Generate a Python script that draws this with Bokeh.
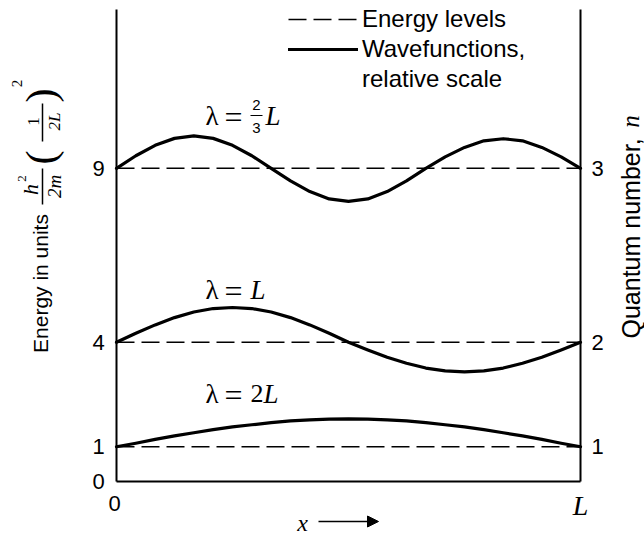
import math
from bokeh.plotting import figure
from bokeh.models import (Range1d, Label, Arrow, NormalHead, Legend, LegendItem,
                          ColumnDataSource)
from bokeh.core.properties import value
from bokeh.embed import file_html
from bokeh.resources import INLINE

# ---------------- data ----------------
energy_levels = [1, 4, 9]              # E in units h^2/2m (1/2L)^2
quantum_numbers = ["1", "2", "3"]
y_tick_values = [0, 1, 4, 9]
y_tick_labels = ["0", "1", "4", "9"]
x_tick_values = [0, 1]
x_tick_labels = ["0", "L"]
# sample positions along the box, fraction of L
x_pos = [i / 24 for i in range(25)]
# wavefunction offsets above each energy level (relative scale)
psi1 = [0.00, 0.10, 0.21, 0.31, 0.40, 0.49, 0.57, 0.63, 0.69, 0.74, 0.77, 0.79, 0.80,
        0.79, 0.77, 0.74, 0.69, 0.63, 0.57, 0.49, 0.40, 0.31, 0.21, 0.10, 0.00]
psi2 = [0.00, 0.26, 0.50, 0.71, 0.87, 0.97, 1.00, 0.97, 0.87, 0.71, 0.50, 0.26, 0.00,
        -0.22, -0.43, -0.60, -0.74, -0.82, -0.85, -0.82, -0.74, -0.60, -0.43, -0.22, 0.00]
psi3 = [0.00, 0.36, 0.66, 0.86, 0.93, 0.86, 0.66, 0.36, 0.00,
        -0.36, -0.67, -0.88, -0.95, -0.88, -0.67, -0.36, 0.00,
        0.33, 0.60, 0.79, 0.85, 0.79, 0.60, 0.33, 0.00]
waves = [psi1, psi2, psi3]
e_top = 13.56   # top of the drawn energy axis

# ---------------- layout helpers ----------------
W, H = 644, 536
FL, FR, FB = 116, 580, 481   # box edges in pixels
PPU = 34.8                   # pixels per energy unit

def X(px):
    return (px - FL) / (FR - FL)

def Y(py):
    return (FB - py) / PPU

SANS = "Liberation Sans"
SERIF = "Liberation Serif"

p = figure(width=W, height=H, output_backend="svg", toolbar_location=None,
           title=None, x_axis_location=None, y_axis_location=None,
           x_range=Range1d(X(0), X(W)), y_range=Range1d(Y(H), Y(0)),
           min_border=0)
p.outline_line_color = None
p.xgrid.visible = False
p.ygrid.visible = False
p.background_fill_color = "white"
p.border_fill_color = "white"

# box (left, right and bottom edges of the well)
box = ColumnDataSource(dict(x0=[0, 1, 0], y0=[0, 0, 0], x1=[0, 1, 1], y1=[e_top, e_top, 0]))
p.segment(x0="x0", y0="y0", x1="x1", y1="y1", source=box, line_color="black", line_width=2)

# tick labels
p.text(x=[0] * len(y_tick_values), y=y_tick_values, text=y_tick_labels,
       x_offset=-18, text_align="center", text_baseline="middle",
       text_font=value(SANS), text_font_size="22px", text_color="black")
p.text(x=[1] * len(energy_levels), y=energy_levels, text=quantum_numbers,
       x_offset=17, text_align="center", text_baseline="middle",
       text_font=value(SANS), text_font_size="22px", text_color="black")
p.text(x=x_tick_values[:1], y=[0], text=x_tick_labels[:1], x_offset=-2, y_offset=22,
       text_align="center", text_baseline="middle",
       text_font=value(SANS), text_font_size="22px", text_color="black")
p.text(x=x_tick_values[1:], y=[0], text=x_tick_labels[1:], x_offset=0, y_offset=24,
       text_align="center", text_baseline="middle", text_font_style="italic",
       text_font=value(SERIF), text_font_size="28px", text_color="black")

# energy levels (dashed)
lvl_src = ColumnDataSource(dict(x0=[0] * len(energy_levels), x1=[1] * len(energy_levels),
                                y=energy_levels))
lvl = p.segment(x0="x0", x1="x1", y0="y", y1="y", source=lvl_src,
                line_color="black", line_width=1.6, line_dash="18 7")

# wavefunctions
wave_rs = []
for e, psi in zip(energy_levels, waves):
    r = p.line(x=x_pos, y=[e + v for v in psi], line_color="black", line_width=3.2,
               line_join="round", line_cap="round")
    wave_rs.append(r)

dummy = p.line(x=[], y=[], line_alpha=0)

legend = Legend(items=[
    LegendItem(label="Energy levels", renderers=[lvl]),
    LegendItem(label="Wavefunctions,", renderers=[wave_rs[0]]),
    LegendItem(label="relative scale", renderers=[dummy]),
])
legend.location = (288, H - 93)
legend.border_line_color = None
legend.background_fill_alpha = 0
legend.padding = 0
legend.margin = 0
legend.spacing = 2
legend.glyph_width = 70
legend.glyph_height = 28
legend.label_height = 28
legend.label_standoff = 4
legend.label_text_font = SANS
legend.label_text_font_size = "24px"
legend.label_text_color = "black"
p.add_layout(legend)

def lab(px, py, text, size, font=SERIF, style="normal", align="left", angle=0.0):
    p.add_layout(Label(x=X(px), y=Y(py), text=text, text_font=font,
                       text_font_size=f"{size}px", text_font_style=style,
                       text_align=align, text_baseline="middle", angle=angle,
                       text_color="black"))

def bar(px0, py0, px1, py1, w=1.5):
    p.add_layout(Arrow(x_start=X(px0), y_start=Y(py0), x_end=X(px1), y_end=Y(py1),
                       end=None, start=None, line_width=w, line_color="black"))

# wavelength annotations
lab(205, 115, "λ", 27)
lab(224, 116, "=", 32)
lab(256, 104, "2", 15, font=SANS, align="center")
bar(250, 115, 262, 115, 1.2)
lab(256, 127, "3", 15, font=SANS, align="center")
lab(265, 115, "L", 27, style="italic")

lab(205, 289, "λ", 27)
lab(224, 290, "=", 32)
lab(250, 289, "L", 27, style="italic")

lab(205, 393, "λ", 27)
lab(224, 394, "=", 32)
lab(250, 393, "2", 26)
lab(263, 393, "L", 27, style="italic")

# left axis title, rotated
R = math.pi / 2
lab(40, 283, "Energy in units", 21, font=SANS, align="center", angle=R)
lab(30, 189, "h", 22, style="italic", align="center", angle=R)
lab(21, 178, "2", 13, align="center", angle=R)
bar(42, 168, 42, 204)
lab(54, 186, "2m", 19, style="italic", align="center", angle=R)
lab(40, 157, "(", 42, align="center", angle=R)
lab(33, 121, "1", 17, align="center", angle=R)
bar(42, 103, 42, 141)
lab(54, 121, "2L", 17, style="italic", align="center", angle=R)
lab(40, 95, ")", 42, align="center", angle=R)
lab(16, 83, "2", 15, align="center", angle=R)

# right axis title
lab(630, 338, "Quantum number,", 25, font=SANS, align="left", angle=R)
lab(630, 121, "n", 25, style="italic", align="center", angle=R)

# x arrow
lab(302, 522, "x", 24, style="italic", align="center")
p.add_layout(Arrow(x_start=X(318), y_start=Y(521), x_end=X(378), y_end=Y(521),
                   line_width=1.5, line_color="black",
                   end=NormalHead(size=11, fill_color="black", line_color="black")))

open("out.html", "w").write(file_html(p, INLINE))
